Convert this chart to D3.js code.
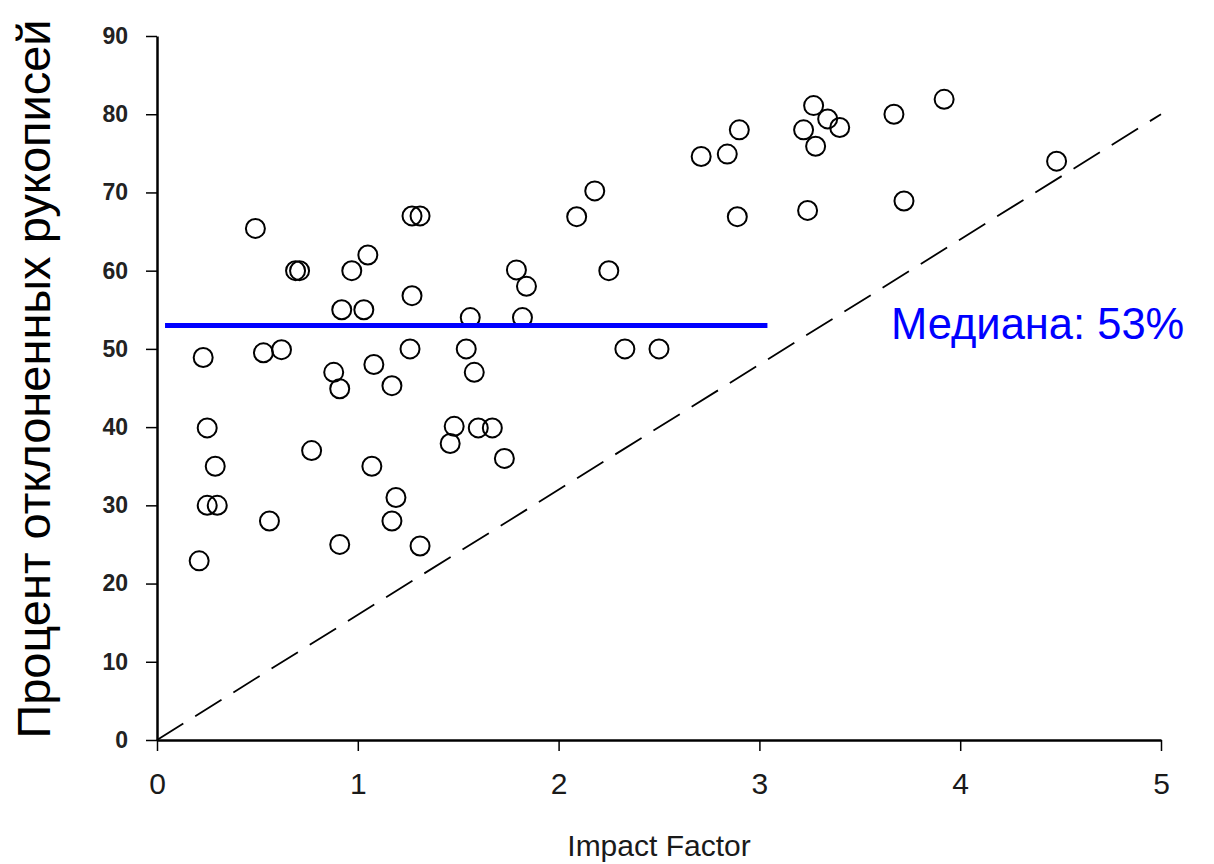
<!DOCTYPE html>
<html>
<head>
<meta charset="utf-8">
<script src="https://cdn.jsdelivr.net/npm/d3@7"></script>
<style>
  body { margin: 0; background: #fff; }
  text { font-family: Arial, "Liberation Sans", sans-serif; }
</style>
</head>
<body>
<div id="scatter"></div>
<script>
// data
const impactFactor = [
  0.21, 0.23, 0.25, 0.29, 0.25, 0.30, 0.49, 0.53, 0.62, 0.56,
  0.69, 0.71, 0.77, 0.92, 0.97, 1.03, 1.05, 0.88, 0.91, 1.08,
  1.07, 0.91, 1.17, 1.19, 1.17, 1.26, 1.27, 1.27, 1.31, 1.31,
  1.48, 1.46, 1.54, 1.56, 1.58, 1.60, 1.67, 1.73, 1.79, 1.84,
  1.82, 2.09, 2.18, 2.25, 2.33, 2.50, 2.71, 2.84, 2.90, 2.89,
  3.22, 3.27, 3.28, 3.34, 3.40, 3.24, 3.67, 3.72, 3.92, 4.48
];
const rejectedPct = [
  22.9, 48.9, 39.9, 35.0, 30.0, 30.0, 65.4, 49.5, 49.9, 28.0,
  60.0, 60.0, 37.0, 55.0, 60.0, 55.0, 62.0, 47.0, 44.9, 48.0,
  35.0, 25.0, 45.3, 31.0, 28.0, 50.0, 56.8, 67.0, 67.0, 24.8,
  40.1, 37.9, 50.0, 54.0, 47.0, 39.9, 39.9, 36.0, 60.1, 58.0,
  54.0, 66.9, 70.2, 60.0, 50.0, 50.0, 74.6, 74.9, 78.0, 66.9,
  78.0, 81.1, 75.9, 79.4, 78.3, 67.7, 80.0, 68.9, 81.9, 74.0
];
const xTicks = [0, 1, 2, 3, 4, 5];
const yTicks = [0, 10, 20, 30, 40, 50, 60, 70, 80, 90];
// dashed reference line (0,0) -> (5,80)
const refLineX = [0, 5];
const refLineY = [0, 80];
// median line
const medianValue = 53;
const medianFrom = [0.04, 3.04];
const medianLabel = "Медиана: 53%";
const xTitle = "Impact Factor";
const yTitle = "Процент отклоненных рукописей";

const W = 1214, H = 864;
const x = d3.scaleLinear().domain([0, 5]).range([157, 1161]);
const y = d3.scaleLinear().domain([0, 90]).range([740, 36]);

const svg = d3.select("#scatter")
  .append("svg")
  .attr("width", W)
  .attr("height", H);

// axes
const yAxis = svg.append("g")
  .attr("transform", `translate(${x(0)},0)`)
  .call(d3.axisLeft(y).tickValues(yTicks).tickFormat(d3.format("d"))
    .tickSize(11).tickSizeOuter(0).tickPadding(18));
yAxis.select(".domain").attr("stroke-width", 2.5);
yAxis.selectAll(".tick line").attr("stroke-width", 1.5);
yAxis.selectAll(".tick text")
  .attr("font-size", 23)
  .attr("font-weight", "bold")
  .attr("fill", "#222")
  .attr("font-family", "Arial, 'Liberation Sans', sans-serif");

const xAxis = svg.append("g")
  .attr("transform", `translate(0,${y(0)})`)
  .call(d3.axisBottom(x).tickValues(xTicks).tickFormat(d3.format("d"))
    .tickSize(11).tickSizeOuter(0).tickPadding(22));
xAxis.select(".domain").attr("stroke-width", 2.5);
xAxis.selectAll(".tick line").attr("stroke-width", 1.5);
xAxis.selectAll(".tick text")
  .attr("font-size", 30)
  .attr("fill", "#1a1a1a")
  .attr("font-family", "Arial, 'Liberation Sans', sans-serif");

// dashed diagonal
svg.append("line")
  .attr("x1", x(refLineX[0])).attr("y1", y(refLineY[0]))
  .attr("x2", x(refLineX[1])).attr("y2", y(refLineY[1]))
  .attr("stroke", "#000")
  .attr("stroke-width", 1.8)
  .attr("stroke-dasharray", "31,14");

// points
svg.append("g")
  .selectAll("circle")
  .data(impactFactor.map((d, i) => [d, rejectedPct[i]]))
  .join("circle")
  .attr("cx", (d) => x(d[0]))
  .attr("cy", (d) => y(d[1]))
  .attr("r", 9.5)
  .attr("fill", "none")
  .attr("stroke", "#000")
  .attr("stroke-width", 2);

// median
svg.append("line")
  .attr("x1", x(medianFrom[0])).attr("x2", x(medianFrom[1]))
  .attr("y1", y(medianValue)).attr("y2", y(medianValue))
  .attr("stroke", "#0000ff")
  .attr("stroke-width", 5);
svg.append("text")
  .attr("x", 891)
  .attr("y", 339)
  .attr("font-size", 43.5)
  .attr("fill", "#0000ff")
  .text(medianLabel);

// axis titles
svg.append("text")
  .attr("x", (x(0) + x(5)) / 2)
  .attr("y", 856)
  .attr("text-anchor", "middle")
  .attr("font-size", 30)
  .attr("fill", "#1a1a1a")
  .text(xTitle);
svg.append("text")
  .attr("transform", "translate(50,379)rotate(-90)")
  .attr("text-anchor", "middle")
  .attr("font-size", 47)
  .attr("fill", "#000")
  .text(yTitle);
</script>
</body>
</html>
